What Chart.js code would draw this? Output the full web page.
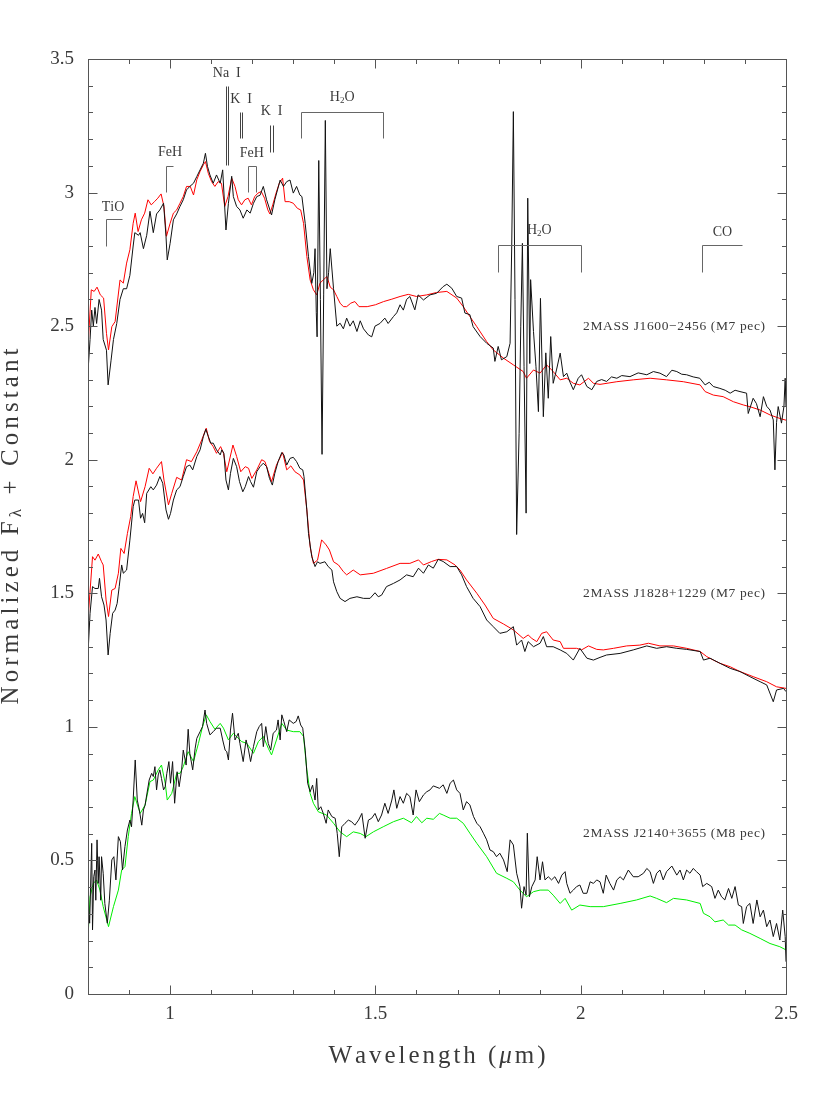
<!DOCTYPE html>
<html>
<head>
<meta charset="utf-8">
<title>Near-infrared spectra</title>
<script src="https://cdn.jsdelivr.net/npm/chart.js@4.4.0/dist/chart.umd.min.js"></script>
<style>
    html, body { margin: 0; padding: 0; background: #fff; }
</style>
</head>
<body>
<canvas id="spectra-chart" width="830" height="1106"></canvas>
<script>
// wavelength (micron), normalized flux + offset
var j1600Observed = [
    [0.800,2.33],[0.805,2.45],[0.809,2.56],[0.813,2.50],[0.817,2.57],[0.821,2.51],[0.827,2.60],[0.833,2.56],[0.837,2.45],[0.845,2.41],
    [0.849,2.28],[0.856,2.37],[0.862,2.45],[0.870,2.51],[0.878,2.60],[0.886,2.64],[0.894,2.64],[0.902,2.69],[0.910,2.80],[0.914,2.85],
    [0.923,2.84],[0.927,2.85],[0.935,2.79],[0.943,2.84],[0.951,2.93],[0.959,2.85],[0.967,2.92],[0.975,2.935],[0.984,2.96],[0.990,2.836],
    [0.993,2.748],[1.000,2.81],[1.008,2.898],[1.016,2.92],[1.024,2.948],[1.032,2.973],[1.040,3.01],[1.048,3.023],[1.057,3.035],[1.065,3.06],
    [1.073,3.085],[1.081,3.11],[1.086,3.147],[1.091,3.098],[1.097,3.066],[1.105,3.035],[1.113,3.066],[1.122,3.035],[1.128,3.085],[1.136,2.86],
    [1.142,2.96],[1.150,3.061],[1.154,2.985],[1.162,2.948],[1.170,2.935],[1.178,2.904],[1.187,2.935],[1.195,2.923],[1.203,2.96],[1.211,2.985],
    [1.219,2.99],[1.227,3.023],[1.235,2.973],[1.247,2.916],[1.255,2.973],[1.268,3.047],[1.276,3.023],[1.284,3.041],[1.292,3.047],[1.300,2.998],
    [1.308,3.023],[1.316,2.991],[1.321,2.985],[1.329,2.885],[1.337,2.76],[1.345,2.66],[1.350,2.70],[1.353,2.79],[1.356,2.55],[1.358,2.46],
    [1.362,3.12],[1.366,2.60],[1.370,2.02],[1.374,2.62],[1.378,3.27],[1.382,2.64],[1.386,2.70],[1.390,2.79],[1.398,2.64],[1.406,2.50],
    [1.414,2.511],[1.422,2.49],[1.430,2.53],[1.438,2.50],[1.446,2.52],[1.455,2.48],[1.463,2.52],[1.471,2.49],[1.483,2.467],[1.491,2.46],
    [1.499,2.50],[1.511,2.51],[1.523,2.53],[1.531,2.51],[1.544,2.536],[1.552,2.55],[1.560,2.58],[1.568,2.56],[1.576,2.60],[1.584,2.611],
    [1.596,2.561],[1.604,2.617],[1.617,2.598],[1.633,2.617],[1.649,2.623],[1.665,2.648],[1.674,2.657],[1.686,2.642],[1.698,2.611],[1.710,2.605],
    [1.718,2.549],[1.730,2.543],[1.738,2.498],[1.755,2.461],[1.771,2.436],[1.787,2.418],[1.791,2.368],[1.799,2.424],[1.807,2.374],[1.820,2.386],
    [1.828,2.436],[1.832,2.80],[1.836,3.303],[1.840,2.60],[1.844,1.72],[1.850,2.099],[1.854,2.50],[1.858,2.81],[1.862,2.35],[1.867,1.80],
    [1.871,2.979],[1.876,2.36],[1.878,2.674],[1.885,2.48],[1.891,2.35],[1.897,2.180],[1.902,2.604],[1.909,2.161],[1.915,2.40],[1.921,2.23],
    [1.927,2.461],[1.933,2.286],[1.941,2.336],[1.950,2.399],[1.958,2.311],[1.966,2.324],[1.974,2.29],[1.982,2.262],[1.994,2.305],[2.002,2.318],
    [2.015,2.274],[2.027,2.262],[2.039,2.293],[2.051,2.30],[2.063,2.293],[2.075,2.31],[2.088,2.305],[2.100,2.315],[2.120,2.311],[2.140,2.325],
    [2.161,2.318],[2.177,2.33],[2.193,2.324],[2.209,2.311],[2.222,2.335],[2.234,2.330],[2.246,2.32],[2.258,2.318],[2.274,2.31],[2.290,2.305],
    [2.303,2.280],[2.313,2.29],[2.323,2.274],[2.339,2.267],[2.352,2.26],[2.364,2.249],[2.376,2.26],[2.388,2.255],[2.404,2.249],[2.408,2.173],
    [2.420,2.230],[2.428,2.21],[2.437,2.161],[2.445,2.236],[2.453,2.20],[2.461,2.186],[2.469,2.149],[2.473,1.962],[2.477,2.14],[2.481,2.199],
    [2.489,2.137],[2.495,2.20],[2.498,2.305],[2.500,2.20]
];
var j1600Template = [
    [0.800,2.42],[0.808,2.636],[0.815,2.630],[0.822,2.646],[0.830,2.617],[0.838,2.605],[0.845,2.473],[0.850,2.411],[0.858,2.498],[0.866,2.517],
    [0.878,2.673],[0.886,2.661],[0.894,2.736],[0.902,2.786],[0.910,2.885],[0.915,2.923],[0.922,2.854],[0.930,2.898],[0.938,2.923],[0.946,2.973],
    [0.954,2.954],[0.962,2.966],[0.970,2.979],[0.978,2.995],[0.985,2.948],[0.991,2.836],[1.000,2.885],[1.008,2.923],[1.016,2.935],[1.024,2.960],
    [1.032,2.985],[1.040,3.023],[1.049,3.023],[1.057,2.991],[1.065,3.048],[1.073,3.079],[1.081,3.104],[1.086,3.116],[1.093,3.072],[1.101,3.041],
    [1.109,3.023],[1.117,3.041],[1.125,3.035],[1.133,2.948],[1.141,2.985],[1.150,3.054],[1.158,3.023],[1.166,2.973],[1.174,2.954],[1.182,2.973],
    [1.190,2.979],[1.198,2.954],[1.206,2.985],[1.214,2.998],[1.222,3.004],[1.230,2.979],[1.238,2.935],[1.243,2.920],[1.250,2.954],[1.258,2.998],
    [1.266,3.035],[1.274,3.054],[1.280,2.966],[1.290,2.966],[1.300,2.960],[1.310,2.941],[1.318,2.935],[1.325,2.885],[1.333,2.761],[1.341,2.673],
    [1.349,2.636],[1.357,2.617],[1.365,2.661],[1.373,2.673],[1.382,2.686],[1.390,2.646],[1.398,2.636],[1.406,2.611],[1.414,2.586],[1.422,2.573],
    [1.430,2.573],[1.440,2.586],[1.450,2.592],[1.460,2.573],[1.480,2.573],[1.500,2.580],[1.520,2.592],[1.540,2.601],[1.560,2.611],[1.580,2.619],
    [1.600,2.611],[1.625,2.617],[1.649,2.626],[1.674,2.630],[1.698,2.605],[1.714,2.573],[1.730,2.536],[1.747,2.498],[1.771,2.442],[1.787,2.411],
    [1.812,2.380],[1.836,2.355],[1.860,2.330],[1.868,2.305],[1.885,2.336],[1.901,2.324],[1.917,2.355],[1.933,2.330],[1.950,2.299],[1.966,2.305],
    [1.982,2.286],[1.998,2.280],[2.019,2.305],[2.031,2.286],[2.047,2.282],[2.088,2.292],[2.128,2.299],[2.169,2.305],[2.209,2.299],[2.250,2.292],
    [2.291,2.280],[2.303,2.255],[2.323,2.242],[2.347,2.236],[2.372,2.217],[2.396,2.205],[2.413,2.198],[2.437,2.186],[2.462,2.167],[2.486,2.154],
    [2.500,2.148]
];
var j1828Observed = [
    [0.800,1.275],[0.805,1.425],[0.811,1.525],[0.817,1.518],[0.825,1.518],[0.828,1.556],[0.833,1.487],[0.839,1.456],[0.844,1.400],[0.849,1.269],
    [0.854,1.350],[0.860,1.425],[0.866,1.437],[0.871,1.462],[0.876,1.525],[0.882,1.606],[0.886,1.575],[0.894,1.587],[0.902,1.699],[0.910,1.824],
    [0.914,1.849],[0.923,1.849],[0.928,1.781],[0.933,1.799],[0.938,1.764],[0.943,1.874],[0.953,1.899],[0.959,1.887],[0.967,1.905],[0.975,1.937],
    [0.982,1.912],[0.990,1.812],[0.996,1.777],[1.001,1.799],[1.008,1.849],[1.016,1.887],[1.024,1.899],[1.032,1.937],[1.040,1.974],[1.048,1.980],
    [1.055,1.962],[1.065,2.012],[1.073,2.037],[1.081,2.087],[1.087,2.114],[1.093,2.087],[1.099,2.062],[1.105,2.062],[1.113,2.037],[1.122,2.018],
    [1.126,2.037],[1.131,2.024],[1.136,1.924],[1.142,1.887],[1.147,1.949],[1.154,2.005],[1.162,1.974],[1.169,1.918],[1.177,1.880],[1.183,1.899],
    [1.191,1.937],[1.196,1.918],[1.203,1.897],[1.211,1.955],[1.219,1.974],[1.227,1.987],[1.235,1.974],[1.242,1.930],[1.249,1.905],[1.255,1.949],
    [1.263,1.993],[1.272,2.027],[1.277,2.018],[1.284,1.980],[1.292,2.005],[1.300,2.009],[1.308,1.993],[1.316,1.968],[1.323,1.962],[1.326,1.937],
    [1.333,1.812],[1.337,1.724],[1.345,1.637],[1.353,1.600],[1.359,1.618],[1.365,1.612],[1.377,1.618],[1.385,1.600],[1.394,1.587],[1.398,1.543],
    [1.406,1.506],[1.414,1.481],[1.426,1.469],[1.438,1.481],[1.455,1.487],[1.471,1.481],[1.487,1.481],[1.499,1.502],[1.507,1.487],[1.515,1.493],
    [1.527,1.525],[1.544,1.537],[1.560,1.550],[1.576,1.569],[1.592,1.562],[1.605,1.594],[1.617,1.575],[1.629,1.606],[1.641,1.594],[1.653,1.627],
    [1.665,1.619],[1.682,1.600],[1.698,1.600],[1.710,1.569],[1.722,1.525],[1.738,1.481],[1.755,1.450],[1.771,1.400],[1.787,1.375],[1.803,1.350],
    [1.820,1.356],[1.836,1.375],[1.844,1.306],[1.856,1.325],[1.864,1.282],[1.872,1.319],[1.885,1.300],[1.901,1.313],[1.909,1.338],[1.917,1.300],
    [1.933,1.300],[1.950,1.288],[1.966,1.275],[1.982,1.250],[1.998,1.294],[2.015,1.257],[2.031,1.250],[2.047,1.260],[2.063,1.269],[2.096,1.275],
    [2.128,1.288],[2.161,1.303],[2.185,1.294],[2.209,1.300],[2.234,1.294],[2.258,1.290],[2.291,1.282],[2.299,1.250],[2.315,1.257],[2.339,1.238],
    [2.364,1.219],[2.388,1.207],[2.412,1.188],[2.437,1.169],[2.453,1.157],[2.469,1.094],[2.477,1.138],[2.494,1.144],[2.500,1.132]
];
var j1828Template = [
    [0.800,1.400],[0.811,1.637],[0.817,1.624],[0.825,1.647],[0.833,1.618],[0.837,1.606],[0.844,1.475],[0.850,1.413],[0.858,1.512],[0.866,1.518],
    [0.874,1.575],[0.880,1.668],[0.888,1.649],[0.896,1.724],[0.904,1.787],[0.910,1.862],[0.917,1.921],[0.928,1.843],[0.939,1.899],[0.949,1.968],
    [0.958,1.947],[0.967,1.968],[0.979,1.993],[0.985,1.924],[0.996,1.831],[1.004,1.874],[1.016,1.934],[1.028,1.924],[1.040,2.000],[1.052,1.993],
    [1.065,2.030],[1.077,2.074],[1.088,2.118],[1.096,2.068],[1.105,2.049],[1.113,2.024],[1.123,2.049],[1.130,2.024],[1.138,1.955],[1.153,2.055],
    [1.162,2.012],[1.172,1.955],[1.183,1.974],[1.191,1.968],[1.199,1.930],[1.211,1.962],[1.223,2.000],[1.231,1.993],[1.247,1.918],[1.259,1.980],
    [1.274,2.027],[1.284,1.962],[1.294,1.977],[1.304,1.955],[1.316,1.943],[1.325,1.924],[1.333,1.812],[1.341,1.674],[1.349,1.612],[1.359,1.624],
    [1.369,1.700],[1.380,1.681],[1.388,1.662],[1.398,1.618],[1.410,1.606],[1.422,1.581],[1.430,1.569],[1.446,1.587],[1.463,1.569],[1.495,1.575],
    [1.527,1.593],[1.560,1.612],[1.584,1.612],[1.605,1.625],[1.617,1.606],[1.637,1.619],[1.653,1.627],[1.674,1.625],[1.694,1.606],[1.706,1.587],
    [1.722,1.550],[1.747,1.500],[1.767,1.456],[1.787,1.406],[1.812,1.385],[1.836,1.363],[1.860,1.331],[1.872,1.344],[1.881,1.331],[1.893,1.319],
    [1.905,1.350],[1.917,1.356],[1.933,1.325],[1.950,1.319],[1.958,1.294],[1.974,1.294],[1.990,1.294],[2.002,1.288],[2.019,1.303],[2.039,1.290],
    [2.055,1.288],[2.080,1.294],[2.112,1.303],[2.144,1.306],[2.165,1.313],[2.193,1.303],[2.226,1.303],[2.258,1.294],[2.291,1.282],[2.307,1.263],
    [2.323,1.250],[2.339,1.238],[2.364,1.225],[2.388,1.207],[2.420,1.188],[2.453,1.169],[2.477,1.150],[2.500,1.144]
];
var j2140Observed = [
    [0.800,0.364],[0.804,0.265],[0.809,0.564],[0.811,0.240],[0.814,0.439],[0.817,0.464],[0.819,0.351],[0.822,0.577],[0.825,0.414],[0.827,0.514],
    [0.831,0.351],[0.833,0.514],[0.837,0.452],[0.841,0.339],[0.847,0.265],[0.852,0.351],[0.858,0.502],[0.863,0.514],[0.868,0.427],[0.874,0.589],
    [0.879,0.570],[0.884,0.464],[0.890,0.552],[0.896,0.614],[0.902,0.651],[0.906,0.626],[0.910,0.726],[0.915,0.876],[0.920,0.726],[0.925,0.689],
    [0.931,0.632],[0.935,0.689],[0.939,0.707],[0.943,0.745],[0.949,0.801],[0.955,0.826],[0.959,0.814],[0.963,0.851],[0.967,0.764],[0.971,0.820],
    [0.975,0.839],[0.979,0.807],[0.984,0.764],[0.988,0.776],[0.992,0.826],[0.997,0.870],[1.001,0.789],[1.006,0.870],[1.011,0.714],[1.017,0.832],
    [1.022,0.776],[1.028,0.839],[1.032,0.913],[1.039,0.857],[1.044,0.991],[1.048,0.901],[1.055,0.839],[1.061,0.920],[1.065,0.957],[1.073,0.982],
    [1.079,1.001],[1.085,1.063],[1.089,1.013],[1.097,0.970],[1.105,0.982],[1.113,0.995],[1.122,0.995],[1.128,0.951],[1.134,0.913],[1.138,0.907],
    [1.142,0.876],[1.147,0.988],[1.152,1.051],[1.158,0.951],[1.166,0.976],[1.170,0.938],[1.178,0.870],[1.185,0.951],[1.191,0.913],[1.196,0.870],
    [1.203,0.926],[1.211,0.982],[1.217,1.001],[1.223,1.013],[1.227,0.926],[1.233,1.001],[1.239,0.938],[1.245,0.913],[1.251,0.976],[1.259,0.988],
    [1.263,1.026],[1.268,0.951],[1.272,1.045],[1.277,1.020],[1.284,0.982],[1.290,1.026],[1.300,1.013],[1.307,1.020],[1.312,1.041],[1.318,1.007],
    [1.323,0.995],[1.329,0.913],[1.335,0.789],[1.341,0.757],[1.347,0.782],[1.353,0.726],[1.357,0.807],[1.361,0.689],[1.367,0.701],[1.373,0.676],
    [1.380,0.639],[1.385,0.689],[1.394,0.664],[1.402,0.658],[1.407,0.601],[1.412,0.514],[1.418,0.626],[1.426,0.639],[1.434,0.651],[1.442,0.645],
    [1.450,0.632],[1.459,0.651],[1.467,0.676],[1.475,0.583],[1.483,0.651],[1.491,0.658],[1.499,0.676],[1.507,0.645],[1.515,0.670],[1.523,0.714],
    [1.531,0.676],[1.540,0.726],[1.545,0.764],[1.552,0.695],[1.560,0.739],[1.568,0.714],[1.576,0.751],[1.584,0.739],[1.592,0.670],[1.599,0.764],
    [1.607,0.720],[1.617,0.745],[1.625,0.757],[1.633,0.764],[1.641,0.779],[1.656,0.770],[1.665,0.783],[1.674,0.751],[1.682,0.789],[1.690,0.801],
    [1.698,0.764],[1.706,0.751],[1.714,0.689],[1.722,0.720],[1.730,0.708],[1.739,0.664],[1.747,0.639],[1.755,0.626],[1.763,0.602],[1.771,0.577],
    [1.779,0.539],[1.787,0.533],[1.795,0.514],[1.803,0.527],[1.812,0.502],[1.821,0.458],[1.828,0.577],[1.836,0.558],[1.844,0.452],[1.852,0.402],
    [1.856,0.321],[1.862,0.402],[1.867,0.370],[1.870,0.602],[1.875,0.364],[1.881,0.402],[1.889,0.427],[1.894,0.514],[1.901,0.427],[1.907,0.495],
    [1.913,0.427],[1.921,0.439],[1.929,0.427],[1.937,0.439],[1.946,0.414],[1.954,0.445],[1.962,0.458],[1.966,0.414],[1.974,0.377],[1.982,0.389],
    [1.990,0.402],[1.998,0.408],[2.006,0.377],[2.015,0.377],[2.023,0.420],[2.031,0.414],[2.039,0.427],[2.047,0.420],[2.055,0.377],[2.062,0.445],
    [2.071,0.414],[2.080,0.389],[2.088,0.427],[2.096,0.439],[2.104,0.427],[2.116,0.464],[2.128,0.439],[2.140,0.439],[2.153,0.452],[2.161,0.470],
    [2.169,0.458],[2.177,0.414],[2.185,0.452],[2.193,0.464],[2.201,0.427],[2.209,0.458],[2.222,0.479],[2.234,0.445],[2.242,0.464],[2.250,0.427],
    [2.258,0.464],[2.266,0.452],[2.274,0.470],[2.282,0.458],[2.291,0.445],[2.297,0.402],[2.307,0.414],[2.319,0.402],[2.327,0.358],[2.335,0.389],
    [2.343,0.364],[2.351,0.352],[2.360,0.395],[2.368,0.358],[2.376,0.402],[2.384,0.333],[2.392,0.327],[2.396,0.264],[2.404,0.327],[2.412,0.339],
    [2.420,0.264],[2.429,0.352],[2.437,0.289],[2.445,0.314],[2.453,0.252],[2.461,0.277],[2.469,0.215],[2.477,0.264],[2.485,0.202],[2.492,0.314],
    [2.498,0.215],[2.500,0.121]
];
var j2140Template = [
    [0.800,0.208],[0.805,0.364],[0.813,0.414],[0.821,0.427],[0.829,0.389],[0.837,0.327],[0.850,0.252],[0.862,0.327],[0.874,0.389],[0.882,0.464],
    [0.890,0.477],[0.898,0.589],[0.906,0.676],[0.914,0.739],[0.927,0.676],[0.939,0.707],[0.951,0.795],[0.959,0.801],[0.971,0.839],[0.979,0.857],
    [0.988,0.789],[0.993,0.726],[1.004,0.751],[1.016,0.826],[1.024,0.826],[1.032,0.851],[1.044,0.907],[1.057,0.870],[1.069,0.938],[1.079,1.001],
    [1.088,1.045],[1.097,1.020],[1.109,0.991],[1.122,1.013],[1.130,0.995],[1.142,0.951],[1.154,0.976],[1.162,0.964],[1.174,0.945],[1.187,0.938],
    [1.203,0.901],[1.215,0.945],[1.227,0.964],[1.239,0.920],[1.247,0.895],[1.259,0.951],[1.272,1.013],[1.284,0.988],[1.300,0.982],[1.316,0.982],
    [1.325,0.964],[1.333,0.839],[1.341,0.751],[1.349,0.714],[1.361,0.682],[1.381,0.670],[1.398,0.639],[1.414,0.607],[1.430,0.589],[1.446,0.607],
    [1.463,0.601],[1.477,0.589],[1.495,0.607],[1.519,0.626],[1.544,0.645],[1.568,0.658],[1.588,0.641],[1.600,0.664],[1.613,0.641],[1.625,0.658],
    [1.641,0.654],[1.656,0.676],[1.665,0.670],[1.682,0.658],[1.698,0.658],[1.714,0.639],[1.730,0.602],[1.747,0.564],[1.771,0.514],[1.795,0.452],
    [1.820,0.433],[1.836,0.420],[1.852,0.389],[1.868,0.364],[1.885,0.383],[1.901,0.389],[1.921,0.389],[1.933,0.370],[1.950,0.339],[1.962,0.358],
    [1.978,0.314],[1.998,0.333],[2.023,0.327],[2.055,0.327],[2.096,0.339],[2.136,0.352],[2.169,0.367],[2.185,0.358],[2.209,0.342],[2.226,0.358],
    [2.258,0.352],[2.291,0.339],[2.299,0.302],[2.315,0.289],[2.327,0.270],[2.347,0.277],[2.360,0.258],[2.376,0.258],[2.392,0.240],[2.412,0.227],
    [2.437,0.208],[2.461,0.189],[2.485,0.177],[2.500,0.165]
];

var objectNames = ['2MASS J1600\u22122456 (M7 pec)', '2MASS J1828+1229 (M7 pec)', '2MASS J2140+3655 (M8 pec)'];
var objectLabelFlux = [2.50, 1.50, 0.60];

var xTickLabels = [1, 1.5, 2, 2.5];
var yTickLabels = [0, 0.5, 1, 1.5, 2, 2.5, 3, 3.5];

// absorption features marked above the top spectrum
var featureNames = ['TiO', 'FeH', 'Na  I', 'K  I', 'FeH', 'K  I', 'H2O', 'H2O', 'CO'];
var featureStart = [0.843, 0.989, 1.136, 1.169, 1.189, 1.243, 1.319, 1.799, 2.296];
var featureEnd = [0.882, 1.008, 1.140, 1.176, 1.209, 1.251, 1.519, 2.001, 2.394];
var featureTop = [2.902, 3.101, 3.399, 3.303, 3.101, 3.253, 3.303, 2.802, 2.802];
var featureBottom = [2.800, 3.004, 3.104, 3.204, 3.004, 3.153, 3.204, 2.704, 2.704];
var featureKind = ['left', 'left', 'pair', 'pair', 'both', 'pair', 'both', 'both', 'left'];
var featureLabelX = [0.861, 1.000, 1.138, 1.173, 1.199, 1.247, 1.419, 1.899, 2.345];
var featureLabelY = [2.946, 3.149, 3.448, 3.350, 3.148, 3.303, 3.357, 2.857, 2.850];

var SERIF = '"Liberation Serif", "DejaVu Serif", serif';
var TEXT_COLOR = '#3a3a3a';

function toPoints(pairs) {
    return pairs.map(function (p) { return { x: p[0], y: p[1] }; });
}

// draws text char by char, spreading it out to a given width (Hershey-like spacing)
function drawSpread(ctx, parts, x, y, width, align) {
    var chars = [];
    parts.forEach(function (p) {
        ctx.font = (p[3] || '') + ' ' + p[1] + 'px ' + SERIF;
        for (var c of p[0]) {
            chars.push({ c: c, font: ctx.font, dy: p[2] || 0, w: ctx.measureText(c).width });
        }
    });
    var natural = 0;
    chars.forEach(function (c) { natural += c.w; });
    var gap = width ? (width - natural) / Math.max(1, chars.length - 1) : 0;
    var total = width || natural;
    var cx = x;
    if (align === 'center') cx = x - total / 2;
    if (align === 'right') cx = x - total;
    ctx.textAlign = 'left';
    ctx.textBaseline = 'middle';
    chars.forEach(function (c) {
        ctx.font = c.font;
        ctx.fillText(c.c, cx, y + c.dy);
        cx += c.w + gap;
    });
}

var decorations = {
    id: 'decorations',
    afterDraw: function (chart) {
        var ctx = chart.ctx;
        var area = chart.chartArea;
        var xs = chart.scales.x;
        var ys = chart.scales.y;
        var px = function (v) { return Math.round(xs.getPixelForValue(v)) + 0.5; };
        var py = function (v) { return Math.round(ys.getPixelForValue(v)) + 0.5; };
        var line = function (x1, y1, x2, y2) {
            ctx.beginPath(); ctx.moveTo(x1, y1); ctx.lineTo(x2, y2); ctx.stroke();
        };

        ctx.save();
        ctx.strokeStyle = '#555';
        ctx.lineWidth = 1;
        var L = Math.round(area.left) + 0.5, R = Math.round(area.right) + 0.5;
        var T = Math.round(area.top) + 0.5, B = Math.round(area.bottom) + 0.5;
        ctx.strokeRect(L, T, R - L, B - T);

        // inward ticks on all four sides
        for (var i = 9; i <= 24; i++) {
            var xx = px(i / 10);
            var len = (i % 5 === 0) ? 9 : 4.5;
            line(xx, B, xx, B - len);
            line(xx, T, xx, T + len);
        }
        for (var j = 1; j <= 34; j++) {
            var yy = py(j / 10);
            var ylen = (j % 5 === 0) ? 9 : 4.5;
            line(L, yy, L + ylen, yy);
            line(R, yy, R - ylen, yy);
        }

        // feature brackets and labels
        ctx.strokeStyle = '#666';
        ctx.fillStyle = TEXT_COLOR;
        for (var k = 0; k < featureNames.length; k++) {
            var x0 = px(featureStart[k]), x1 = px(featureEnd[k]);
            var yt = py(featureTop[k]), yb = py(featureBottom[k]);
            if (featureKind[k] === 'pair') {
                ctx.strokeStyle = '#444';
                line(x0, yt, x0, yb);
                line(x1, yt, x1, yb);
                ctx.strokeStyle = '#666';
            } else {
                line(x0, yt, x1, yt);
                line(x0, yt, x0, yb);
                if (featureKind[k] === 'both') line(x1, yt, x1, yb);
            }
            var lx = xs.getPixelForValue(featureLabelX[k]);
            var ly = ys.getPixelForValue(featureLabelY[k]);
            if (featureNames[k] === 'H2O') {
                drawSpread(ctx, [['H', 14], ['2', 9, 3], ['O', 14]], lx, ly, 0, 'center');
            } else {
                drawSpread(ctx, [[featureNames[k], 14]], lx, ly, 0, 'center');
            }
        }

        // object names
        for (var m = 0; m < objectNames.length; m++) {
            drawSpread(ctx, [[objectNames[m], 13.5]], xs.getPixelForValue(2.449),
                ys.getPixelForValue(objectLabelFlux[m]), 182, 'right');
        }

        // axis titles
        drawSpread(ctx, [['Wavelength (', 25], ['\u03bc', 25, 0, 'italic'], ['m)', 25]],
            (area.left + area.right) / 2, 1056, 217, 'center');
        ctx.translate(11, (area.top + area.bottom) / 2);
        ctx.rotate(-Math.PI / 2);
        drawSpread(ctx, [['Normalized F', 25], ['\u03bb', 17, 6], [' + Constant', 25]], 0, 0, 356, 'center');
        ctx.restore();
    }
};

function lineSet(pairs, color, order) {
    return {
        data: toPoints(pairs),
        borderColor: color,
        borderWidth: 1,
        pointRadius: 0,
        tension: 0,
        fill: false,
        order: order
    };
}

var ctx = document.getElementById('spectra-chart');
var spectraChart = new Chart(ctx, {
    type: 'line',
    data: {
        datasets: [
            lineSet(j1600Observed, '#111', 1),
            lineSet(j1828Observed, '#111', 1),
            lineSet(j2140Observed, '#111', 1),
            lineSet(j1600Template, '#ff0000', 2),
            lineSet(j1828Template, '#ff0000', 2),
            lineSet(j2140Template, '#00ee00', 2)
        ]
    },
    plugins: [decorations],
    options: {
        responsive: false,
        animation: false,
        events: [],
        layout: { padding: { left: 0, top: 59, right: 44, bottom: 0 } },
        plugins: {
            legend: { display: false },
            tooltip: { enabled: false }
        },
        scales: {
            x: {
                type: 'linear',
                min: 0.8,
                max: 2.5,
                afterBuildTicks: function (scale) {
                    scale.ticks = xTickLabels.map(function (v) { return { value: v }; });
                },
                afterFit: function (scale) { scale.height = 112; },
                grid: { display: false },
                border: { display: false },
                ticks: {
                    autoSkip: false,
                    maxRotation: 0,
                    padding: 1,
                    color: TEXT_COLOR,
                    font: { family: SERIF, size: 19 },
                    callback: function (v) { return String(v); }
                }
            },
            y: {
                type: 'linear',
                min: 0,
                max: 3.5,
                afterBuildTicks: function (scale) {
                    scale.ticks = yTickLabels.map(function (v) { return { value: v }; });
                },
                afterFit: function (scale) { scale.width = 88; },
                grid: { display: false },
                border: { display: false },
                ticks: {
                    autoSkip: false,
                    padding: 6,
                    color: TEXT_COLOR,
                    font: { family: SERIF, size: 19 },
                    callback: function (v) { return String(v); }
                }
            }
        }
    }
});
</script>
</body>
</html>
